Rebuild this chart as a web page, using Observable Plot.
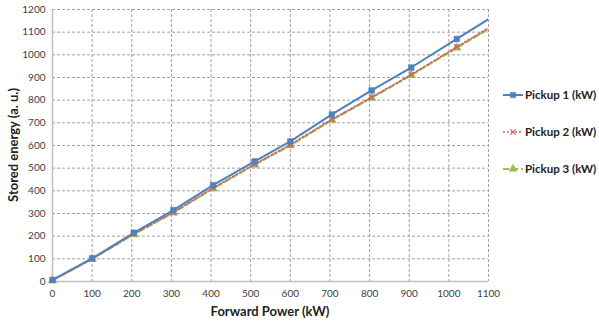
<!DOCTYPE html>
<html><head><meta charset="utf-8">
<script src="https://cdn.jsdelivr.net/npm/d3@7"></script>
<script src="https://cdn.jsdelivr.net/npm/@observablehq/plot@0.6"></script>
<style>body{margin:0;background:#fff;} #c{position:relative;width:599px;height:324px;}</style>
</head><body><div id="c"></div>
<script>
const power = [0, 100, 205, 305, 405, 510, 600, 705, 805, 905, 1020, 1130];
const pickup1 = [7, 102, 215, 315, 425, 530, 618, 737, 843, 944, 1070, 1190];
const pickup2 = [5, 100, 210, 306, 413, 518, 604, 716, 813, 913, 1035, 1150];
const pickup3 = [5, 99, 208, 303, 410, 515, 600, 712, 810, 910, 1031, 1143];
const seriesNames = ["Pickup 1 (kW)", "Pickup 2 (kW)", "Pickup 3 (kW)"];
const xTicks = [0,100,200,300,400,500,600,700,800,900,1000,1100];
const yTicks = [0,100,200,300,400,500,600,700,800,900,1000,1100,1200];

const colors = ["#4f81bd", "#d0605d", "#9bbb59"];
const dashes = [null, "2,2", "6,3"];
const symbols = ["square", "times", "triangle"];
const widths = [2, 1.5, 2];
const seriesVals = [pickup1, pickup2, pickup3];

const rows = [];
seriesVals.forEach((vals, s) => power.forEach((p, i) => rows.push({s, name: seriesNames[s], x: p, y: vals[i], marker: p <= 1100})));

const font = "Lato, 'Open Sans', sans-serif";
const marks = [
  Plot.gridY(yTicks, {stroke: "#a0a0a0", strokeOpacity: 1, strokeDasharray: "3,2"}),
  Plot.gridX(xTicks, {stroke: "#a0a0a0", strokeOpacity: 1, strokeDasharray: "3,2"}),
  Plot.ruleX([0], {stroke: "#bfbfbf", strokeWidth: 1.5}),
  Plot.ruleY([0], {stroke: "#bfbfbf", strokeWidth: 1.5}),
  Plot.axisX(xTicks, {tickSize: 0, tickPadding: 8, label: null, fontSize: 10, fill: "#404040", tickFormat: d => String(d)}),
  Plot.axisY(yTicks, {tickSize: 0, tickPadding: 7, label: null, fontSize: 10, fill: "#404040", tickFormat: d => String(d)})
];
[2,1,0].forEach(s => {
  const d = rows.filter(r => r.s === s);
  marks.push(Plot.line(d, {x: "x", y: "y", stroke: colors[s], strokeWidth: widths[s], strokeDasharray: dashes[s], clip: true}));
  marks.push(Plot.dot(d.filter(r => r.marker), {x: "x", y: "y", symbol: () => symbols[s], r: s === 1 ? 2.5 : 3.2, fill: s === 1 ? "none" : colors[s], stroke: colors[s], strokeWidth: s === 1 ? 1.2 : 0.5}));
});

const chart = Plot.plot({
  width: 599, height: 324,
  marginLeft: 52, marginRight: 111, marginTop: 9, marginBottom: 43,
  x: {domain: [0, 1100]},
  y: {domain: [0, 1200]},
  style: {fontFamily: font, background: "#fff"},
  marks
});
document.getElementById("c").appendChild(chart);

const svg = d3.select(chart);
svg.append("text").attr("x", 270).attr("y", 316).attr("text-anchor", "middle")
  .attr("font-family", font).attr("font-weight", "bold").attr("font-size", 13).attr("fill", "#222")
  .text("Forward Power (kW)");
svg.append("text").attr("transform", "translate(18,145) rotate(-90)").attr("text-anchor", "middle")
  .attr("font-family", font).attr("font-weight", "bold").attr("font-size", 13).attr("fill", "#222")
  .text("Stored energy (a. u.)");

const legY = [95, 132, 169];
const sym = {square: d3.symbolSquare, times: d3.symbolTimes, triangle: d3.symbolTriangle};
seriesNames.forEach((n, s) => {
  const g = svg.append("g").attr("transform", `translate(503,${legY[s]})`);
  g.append("line").attr("x1", 0).attr("x2", 20).attr("y1", 0).attr("y2", 0)
    .attr("stroke", colors[s]).attr("stroke-width", widths[s]).attr("stroke-dasharray", dashes[s]);
  g.append("path").attr("transform", "translate(10,0)")
    .attr("d", d3.symbol(sym[symbols[s]], s === 1 ? 20 : 28)())
    .attr("fill", s === 1 ? "none" : colors[s]).attr("stroke", colors[s]).attr("stroke-width", s === 1 ? 1.2 : 0.5);
  g.append("text").attr("x", 22).attr("y", 4).attr("text-anchor", "start").attr("font-family", font).attr("font-weight", "bold")
    .attr("font-size", 11.5).attr("fill", "#222").text(n);
});
</script></body></html>
